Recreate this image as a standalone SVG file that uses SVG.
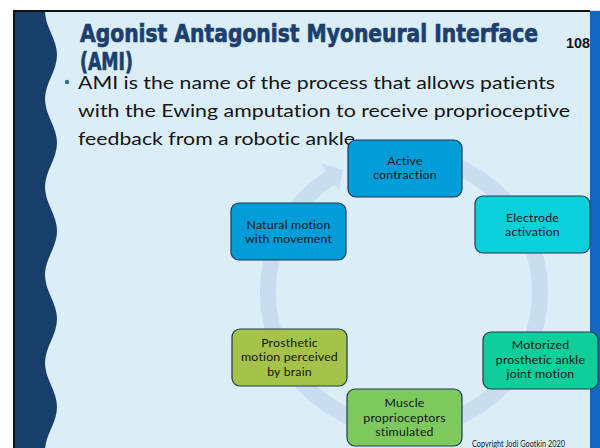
<svg xmlns="http://www.w3.org/2000/svg" width="600" height="448" viewBox="0 0 600 448">
<style>
.title{font-family:"DejaVu Sans Condensed","Liberation Sans Narrow","Liberation Sans",sans-serif;font-weight:bold;font-size:25px;fill:#1B3F6E;stroke:#1B3F6E;stroke-width:0.7}
.body{font-family:Lato,"Open Sans","Liberation Sans",sans-serif;font-size:18px;fill:#141414;font-variant-ligatures:none}
.lbl{font-family:Lato,"Open Sans","Liberation Sans",sans-serif;font-size:12.3px;letter-spacing:0.2px;fill:#141414;text-anchor:middle;font-variant-ligatures:none}
.box{stroke:#1E3A50;stroke-width:1.2}
</style>
<rect x="0" y="0" width="600" height="448" fill="#FFFFFF"/>
<rect x="13" y="10" width="587" height="438" fill="#DBEEF8"/>
<rect x="590" y="11" width="10" height="437" fill="#1168C4"/>
<path d="M15,11 L45,11 C45,27 57,39 57,55 C57,71 45,83 45,99 C45,115 57,127 57,143 C57,159 45,171 45,187 C45,203 57,215 57,231 C57,247 45,259 45,275 C45,291 57,303 57,319 C57,335 45,347 45,363 C45,379 57,391 57,407 C57,423 45,435 45,451 L15,451 Z" fill="#183F69"/>
<rect x="13" y="10" width="577" height="2" fill="#111111"/>
<rect x="13" y="10" width="2" height="438" fill="#111111"/>
<text class="title" x="80" y="42" textLength="458" lengthAdjust="spacingAndGlyphs">Agonist Antagonist Myoneural Interface</text>
<text class="title" x="80" y="70" textLength="53" lengthAdjust="spacingAndGlyphs">(AMI)</text>
<text x="566" y="48" font-family="Liberation Sans,sans-serif" font-weight="bold" font-size="14" fill="#111111" textLength="24" lengthAdjust="spacingAndGlyphs">108</text>
<circle cx="67" cy="82" r="2.2" fill="#2C6EAA"/>
<text class="body" x="78" y="88.5" textLength="477" lengthAdjust="spacingAndGlyphs">AMI is the name of the process that allows patients</text>
<text class="body" x="78" y="117" textLength="492" lengthAdjust="spacingAndGlyphs">with the Ewing amputation to receive proprioceptive</text>
<text class="body" x="78" y="145" textLength="277" lengthAdjust="spacingAndGlyphs">feedback from a robotic ankle</text>
<g id="connectors">
<path d="M380.4,158.1 A136,136 0 1 1 330.3,177.7" fill="none" stroke="#C9DDF0" stroke-width="16"/>
<polygon points="321.1,163.4 342.9,169.4 339.0,191.1" fill="#C9DDF0"/>
</g>
<g id="active">
<rect class="box" x="348" y="140" width="114" height="57" rx="8" fill="#009DD9"/>
<text class="lbl" x="405" y="164.5">Active</text>
<text class="lbl" x="405" y="178.5">contraction</text>
</g>
<g id="electrode">
<rect class="box" x="475" y="196" width="115" height="57" rx="8" fill="#0BCFD9"/>
<text class="lbl" x="532.5" y="221.5">Electrode</text>
<text class="lbl" x="532.5" y="235.5">activation</text>
</g>
<g id="motorized">
<rect class="box" x="483" y="332" width="115" height="57" rx="8" fill="#10CE9B"/>
<text class="lbl" x="540.5" y="349">Motorized</text>
<text class="lbl" x="540.5" y="363.5">prosthetic ankle</text>
<text class="lbl" x="540.5" y="378">joint motion</text>
</g>
<g id="muscle">
<rect class="box" x="347" y="389" width="115" height="57" rx="8" fill="#7DC95E"/>
<text class="lbl" x="404.5" y="407">Muscle</text>
<text class="lbl" x="404.5" y="421.5">proprioceptors</text>
<text class="lbl" x="404.5" y="436">stimulated</text>
</g>
<g id="prosthetic">
<rect class="box" x="232" y="329" width="115" height="57" rx="8" fill="#A5C249"/>
<text class="lbl" x="289.5" y="346.5">Prosthetic</text>
<text class="lbl" x="289.5" y="361">motion perceived</text>
<text class="lbl" x="289.5" y="375.5">by brain</text>
</g>
<g id="natural">
<rect class="box" x="231" y="203" width="115" height="57" rx="8" fill="#009DD9"/>
<text class="lbl" x="288.5" y="228.5">Natural motion</text>
<text class="lbl" x="288.5" y="243">with movement</text>
</g>
<text x="472" y="447" font-family="Lato,'Liberation Sans',sans-serif" font-size="8.5" fill="#222222" textLength="93" lengthAdjust="spacingAndGlyphs">Copyright Jodi Gootkin 2020</text>
</svg>
